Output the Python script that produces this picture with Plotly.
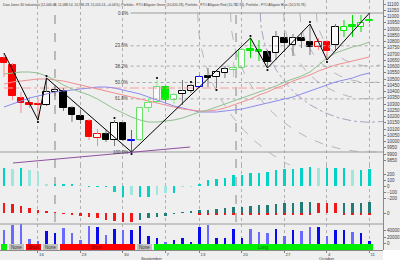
import numpy as np
import plotly.graph_objects as go

# ---------------- data ----------------
idx = list(range(44))  # trading days 10 Aug 2010 .. 11 Oct 2010
opn = [10668, 10612, 10348, 10308, 10300, 10292, 10396, 10404, 10268, 10204, 10164, 10028, 10060, 10012, 10148,
       10004, 10012, 10268, 10316, 10436, 10332, 10380, 10404, 10436, 10524, 10516, 10548, 10572, 10588, 10740,
       10732, 10716, 10708, 10828, 10772, 10828, 10796, 10756, 10796, 10772, 10884, 10932, 10916, 10964]
high = [10708, 10628, 10396, 10356, 10348, 10508, 10452, 10428, 10284, 10252, 10180, 10100, 10092, 10172, 10156,
        10092, 10276, 10348, 10492, 10444, 10388, 10492, 10460, 10532, 10588, 10572, 10604, 10636, 10748, 10828,
        10812, 10732, 10884, 10868, 10860, 10868, 10940, 10828, 10812, 10940, 10972, 11012, 11012, 11028]
low = [10516, 10332, 10228, 10268, 10172, 10284, 10332, 10244, 10156, 10140, 10012, 9964, 9996, 9964, 10004,
       9916, 10004, 10236, 10308, 10316, 10300, 10292, 10388, 10428, 10436, 10428, 10508, 10516, 10580, 10668,
       10644, 10588, 10652, 10716, 10684, 10748, 10692, 10732, 10652, 10724, 10836, 10836, 10876, 10948]
close = [10628, 10364, 10308, 10292, 10292, 10396, 10412, 10268, 10212, 10172, 10036, 10060, 10012, 10148, 10012,
         10012, 10268, 10308, 10436, 10332, 10372, 10404, 10444, 10516, 10508, 10556, 10580, 10588, 10732, 10724,
         10716, 10636, 10836, 10788, 10828, 10804, 10756, 10796, 10724, 10916, 10916, 10916, 10948, 10972]
candle_class = ['red', 'red', 'red', 'red', 'red', 'dark', 'dark', 'dark', 'dark', 'dark', 'red', 'red', 'dark',
                'dark', 'dark', 'blue', 'lgreen', 'lgreen', 'lgreen', 'green', 'lgreen', 'dark', 'dark', 'blue',
                'dark', 'dark', 'dark', 'lgreen', 'lgreen', 'green', 'green', 'dark', 'dark', 'dark', 'dark', 'dark',
                'dark', 'red', 'red', 'dark', 'green', 'green', 'green', 'green']

gator_green = [10540, 10548, 10556, 10556, 10548, 10524, 10492, 10452, 10420, 10396, 10372, 10340, 10300, 10260,
               10228, 10196, 10172, 10156, 10156, 10164, 10172, 10188, 10212, 10236, 10252, 10276, 10300, 10324,
               10348, 10372, 10396, 10420, 10444, 10476, 10500, 10524, 10556, 10612, 10668, 10708, 10732, 10756,
               10772, 10796]
gator_red = [10460, 10476, 10484, 10492, 10500, 10500, 10492, 10484, 10468, 10452, 10436, 10420, 10404, 10388,
             10372, 10356, 10340, 10324, 10308, 10292, 10276, 10260, 10252, 10244, 10244, 10252, 10268, 10292,
             10316, 10340, 10372, 10396, 10428, 10452, 10484, 10508, 10532, 10564, 10588, 10612, 10628, 10644,
             10660, 10676]
gator_blue = [10276, 10300, 10324, 10348, 10364, 10380, 10396, 10404, 10412, 10420, 10428, 10436, 10436, 10428,
              10412, 10396, 10380, 10356, 10332, 10308, 10284, 10268, 10252, 10236, 10236, 10236, 10244, 10252,
              10260, 10276, 10292, 10308, 10324, 10340, 10356, 10380, 10404, 10428, 10452, 10476, 10492, 10508,
              10532, 10548]

volume = [41500, 56900, 59000, 15400, 7700, 38500, 30800, 49200, 32300, 10800, 53800, 50800, 26200, 44600, 41500,
          41500, 53800, 23100, 16900, 4600, 10800, 16900, 4600, 50800, 56900, 16900, 16900, 44600, 16900, 44600,
          35400, 32300, 44600, 23100, 41500, 38500, 50800, 50800, 23100, 41500, 41500, 35400, 32300, 7700]
ao = [300, 283, 300, 267, 233, 17, 17, 17, 17, 8, -8, -8, -8, -100, -183, -150, -183, -183, -150, -117, -117, -8,
      -3, 17, 100, 117, 133, 183, 183, 217, 217, 233, 267, 283, 283, 300, 317, 300, 300, 300, 300, 267, 267, 283]
ac = [100, 90, 70, 50, 30, 15, 5, -5, -20, -30, -40, -50, -70, -80, -85, -88, -70, -50, -40, -30, -10, 10, 12, 30,
      32, 40, 50, 60, 62, 70, 80, 82, 95, 100, 102, 110, 112, 105, 100, 98, 102, 104, 105, 110]
ac_tip = [0] * 23 + [-14] * 14 + [0, 0, 0] + [-14] * 4

tick_idx = [4, 9, 14, 19, 23, 28, 33, 38, 43]
tick_text = ['16', '23', '30', '7', '13', '20', '27', '4', '11']
month_idx = [16, 37]
month_text = ['September', 'October']

zz_idx = [0, 4, 5, 15, 29, 31, 36, 38, 43]
zz_kind = ['H', 'L', 'H', 'L', 'H', 'L', 'H', 'L', 'H']
fractal_idx = [4, 5, 13, 15, 18, 22, 25, 29, 31, 36, 38]
fractal_kind = ['L', 'H', 'H', 'L', 'H', 'H', 'L', 'H', 'L', 'H', 'L']

strip_state = ['Long', 'None', 'Short', 'None', 'Short', 'None', 'Long']
strip_start = [0, 1, 3, 5, 7, 16, 18]
strip_end = [0, 2, 4, 6, 15, 17, 43]

fib_hi_idx, fib_lo_idx = 43, 15
fib_ratio = [0.0, 0.236, 0.382, 0.5, 0.618, 1.0]
fib_text = ['0.0%', '23.6%', '38.2%', '50.0%', '61.8%', '100.0%']
arc_ratio = [0.382, 0.5, 0.618, 0.786, 1.0, 1.236]

level_price = [10428]
level_end = [33]
trend_idx = [1.06, 21.9]
trend_price = [9828, 9956]
time_line_idx = [6, 27.3]

title = ("Dow Jones 30 Industrials (11,006.00, 11,088.54, 10,986.28, 11,010.24, +0.04%), "
         "Portfolio - FTO Alligator Green (10,620.28), Portfolio - FTO Alligator Red (10,712.94), "
         "Portfolio - FTO Alligator Blue (10,570.78)")

# ---------------- styling ----------------
BG = '#EFEFEF'
FONT = 'Liberation Sans, Arial, sans-serif'
line_col = {'red': '#FF0000', 'dark': '#000000', 'green': '#00EE00', 'lgreen': '#66E066', 'blue': '#0000FF'}
wick_col = {'red': '#FF8888', 'dark': '#777777', 'green': '#00DD00', 'lgreen': '#88EE88', 'blue': '#5050FF'}
HOLLOW = '#FAFAFA'
X0, X1 = -0.47, 44.59

fig = go.Figure()

# --- fib levels
hi = high[fib_hi_idx]
lo = low[fib_lo_idx]
for r, t in zip(fib_ratio, fib_text):
    lvl = hi - r * (hi - lo)
    solid = r in (0.0, 1.0)
    xs = [X0, X1] if r == 1.0 else [14.9, X1]
    fig.add_trace(go.Scatter(x=xs, y=[lvl, lvl], mode='lines',
                             line=dict(color='#9A9A9A' if solid else '#A8A8A8', width=1,
                                       dash='solid' if solid else 'dot'),
                             hoverinfo='skip'))
    fig.add_annotation(x=14.8, y=lvl, xref='x', yref='y', text=t, showarrow=False,
                       xanchor='right', yanchor='middle', font=dict(size=4.5, color='#404040', family=FONT))

# --- fib arcs around the last swing high
for r in arc_ratio:
    ry = r * (hi - lo)
    rx = ry / 8.0 / 8.5
    phi = np.linspace(0, np.pi / 2 + 0.2, 100)
    purple = abs(r - 0.786) < 1e-6
    fig.add_trace(go.Scatter(x=fib_hi_idx - rx * np.cos(phi), y=hi - ry * np.sin(phi), mode='lines',
                             line=dict(color='#9C8CB8' if purple else '#A6A6B0', width=0.8,
                                       dash='dashdot' if purple else 'dash'), hoverinfo='skip'))

# --- horizontal level and trend line
fig.add_trace(go.Scatter(x=[0, level_end[0]], y=[level_price[0]] * 2, mode='lines',
                         line=dict(color='#F0A0A0', width=1, dash='dashdot'), hoverinfo='skip'))
fig.add_trace(go.Scatter(x=trend_idx, y=trend_price, mode='lines',
                         line=dict(color='#9050A0', width=1), hoverinfo='skip'))

# --- alligator
for vals, c in ((gator_blue, '#8C8CF0'), (gator_red, '#F09090'), (gator_green, '#90C090')):
    fig.add_trace(go.Scatter(x=idx, y=vals, mode='lines', line=dict(color=c, width=1), hoverinfo='skip'))

# --- candle wicks
for cl in line_col:
    xs, ys = [], []
    for i in idx:
        if candle_class[i] != cl:
            continue
        top, bot = max(opn[i], close[i]), min(opn[i], close[i])
        xs += [i, i, None, i, i, None]
        ys += [high[i], top, None, bot, low[i], None]
    fig.add_trace(go.Scatter(x=xs, y=ys, mode='lines', line=dict(color=wick_col[cl], width=1),
                             hoverinfo='skip'))

# --- candle bodies
base = [min(o, c) for o, c in zip(opn, close)]
hgt = [max(abs(c - o), 8) for o, c in zip(opn, close)]
fill = [line_col[k] if c < o else HOLLOW for k, o, c in zip(candle_class, opn, close)]
fig.add_trace(go.Bar(x=idx, y=hgt, base=base, width=0.74,
                     marker=dict(color=fill, line=dict(color=[line_col[k] for k in candle_class], width=1)),
                     hoverinfo='skip'))

# --- zigzag and fractals
fig.add_trace(go.Scatter(x=zz_idx, y=[high[i] if k == 'H' else low[i] for i, k in zip(zz_idx, zz_kind)],
                         mode='lines', line=dict(color='#000000', width=1), hoverinfo='skip'))
fig.add_trace(go.Scatter(x=fractal_idx,
                         y=[high[i] + 16 if k == 'H' else low[i] - 16 for i, k in zip(fractal_idx, fractal_kind)],
                         mode='markers', marker=dict(color='#000000', size=2.2), hoverinfo='skip'))

# --- awesome oscillator (cyan)
ao_col = []
for i, v in enumerate(ao):
    prev = ao[i - 1] if i else v
    ao_col.append('#9EE6DE' if abs(v) < abs(prev) else '#00D2C4')
fig.add_trace(go.Bar(x=idx, y=ao, width=0.24, marker=dict(color=ao_col, line=dict(width=0)),
                     yaxis='y2', hoverinfo='skip'))

# --- accelerator (teal / red)
ac_col = []
for i, v in enumerate(ac):
    prev = ac[i - 1] if i else v + 1
    ac_col.append('#237B78' if v >= prev else '#F01818')
fig.add_trace(go.Bar(x=idx, y=ac, width=0.26, marker=dict(color=ac_col, line=dict(width=0)),
                     yaxis='y3', hoverinfo='skip'))
fig.add_trace(go.Bar(x=idx, y=ac_tip, width=0.26, marker=dict(color='#F01818', line=dict(width=0)),
                     yaxis='y3', hoverinfo='skip'))

# --- volume
vol_col = ['#6A6AFF' if c < o else '#0A0AEE' for o, c in zip(opn, close)]
fig.add_trace(go.Bar(x=idx, y=volume, width=0.24, marker=dict(color=vol_col, line=dict(width=0)),
                     yaxis='y4', hoverinfo='skip'))

# --- position strip
state_col = {'Long': '#00EE00', 'Short': '#FF0000', 'None': '#C2C2C2'}
state_txt = {'Long': '#1A601A', 'Short': '#5A0000', 'None': '#333333'}
centers = [(s + e) / 2 for s, e in zip(strip_start, strip_end)]
widths = [e - s + 1 - 0.18 for s, e in zip(strip_start, strip_end)]
fig.add_trace(go.Bar(x=centers, y=[1] * len(centers), base=0, width=widths,
                     marker=dict(color=[state_col[s] for s in strip_state], line=dict(width=0)),
                     yaxis='y5', hoverinfo='skip'))
for cx, s, a, b in zip(centers, strip_state, strip_start, strip_end):
    if b > a:
        fig.add_annotation(x=cx, y=0.5, xref='x', yref='y5', text=s, showarrow=False,
                           font=dict(size=4.5, color=state_txt[s], family=FONT))

# --- time lines
for t in time_line_idx:
    fig.add_shape(type='line', x0=t, x1=t, xref='x', yref='paper', y0=1 - 222 / 250, y1=1 - 3 / 250,
                  line=dict(color='#A8A8A8', width=1.5, dash='dash'), layer='below')
fig.add_shape(type='line', x0=0, x1=1, xref='paper', yref='paper', y0=1 - 224 / 250, y1=1 - 224 / 250,
              line=dict(color='#9A9A9A', width=1))

# --- texts
fig.add_annotation(x=0.003, y=1, xref='paper', yref='paper', text=title, showarrow=False,
                   xanchor='left', yanchor='top', yshift=-0.5, font=dict(size=3.3, color='#404040', family=FONT))
for mi, mt in zip(month_idx, month_text):
    fig.add_annotation(x=mi, y=-8.6 / 250, xref='x', yref='paper', text=mt, showarrow=False,
                       xanchor='left', yanchor='middle', xshift=-1, font=dict(size=4.3, color='#404040', family=FONT))
fig.add_shape(type='rect', x0=1.0, x1=1.05, y0=-0.05, y1=0, xref='paper', yref='paper',
              line=dict(width=0), fillcolor='#FFFFFF')

axis_common = dict(side='right', anchor='x', showgrid=False, zeroline=False, ticks='outside', ticklen=2,
                   tickcolor='#808080', showline=True, linecolor='#8A8A8A', linewidth=1,
                   tickfont=dict(size=4.5, color='#404040', family=FONT), tickformat='d')

fig.update_layout(
    width=400, height=260, margin=dict(l=0, r=17, t=0, b=10),
    paper_bgcolor=BG, plot_bgcolor=BG, showlegend=False, barmode='overlay', bargap=0,
    xaxis=dict(range=[X0, X1], domain=[0, 1], anchor='y5', tickvals=tick_idx, ticktext=tick_text,
               ticks='outside', ticklen=2, tickcolor='#808080', showline=True, linecolor='#8A8A8A',
               showgrid=True, gridcolor='#B0B0B0', griddash='dot', gridwidth=1, zeroline=False,
               ticklabelposition='outside right', ticklabelstandoff=0,
               tickfont=dict(size=4.3, color='#404040', family=FONT)),
    yaxis=dict(domain=[0.34, 1], range=[9812, 11132], tickvals=list(range(9850, 11101, 50)), **axis_common),
    yaxis2=dict(domain=[0.2, 0.34], range=[-233.3, 350], tickvals=[-200, -100, 0, 100, 200], **axis_common),
    yaxis3=dict(domain=[0.104, 0.2], range=[-110, 130], tickvals=[0], **axis_common),
    yaxis4=dict(domain=[0.024, 0.104], range=[-1538, 60000], tickvals=[0, 20000, 40000], **axis_common),
    yaxis5=dict(domain=[0, 0.024], range=[0, 1], side='right', anchor='x', showgrid=False, zeroline=False,
                showticklabels=False, showline=True, linecolor='#8A8A8A'),
)

fig.write_html("out.html")
